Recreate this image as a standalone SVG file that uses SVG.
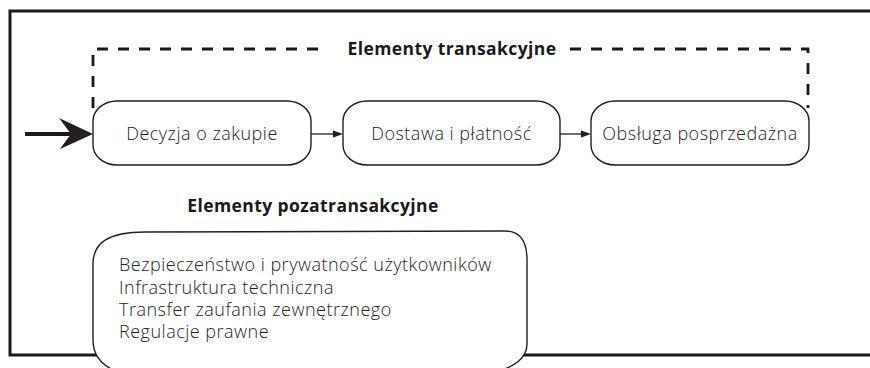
<svg xmlns="http://www.w3.org/2000/svg" width="870" height="368" viewBox="0 0 870 368">
<style>
.frame{fill:none;stroke:#1a1a1a;stroke-width:3}
.dash{fill:none;stroke:#1a1a1a;stroke-width:2.8;stroke-dasharray:11 10}
.box{fill:#fff;stroke:#231f20;stroke-width:1.4}
.lbl{font-family:"Open Sans","Noto Sans",sans-serif;font-weight:300;font-size:18px;letter-spacing:0.5px;fill:#231f20}
.hdr{font-family:"Open Sans","Noto Sans",sans-serif;font-weight:700;font-size:17.5px;letter-spacing:0.4px;fill:#1a1a1a}
.conn{stroke:#231f20;stroke-width:1.3;fill:none}
.head{fill:#231f20}
</style>
<rect width="870" height="368" fill="#fff"/>
<path class="frame" d="M872,11 H10 V355 H872"/>
<g id="transakcyjne-group">
<path class="dash" d="M93,108 V49 H324"/>
<path class="dash" d="M570,49 H808 V108"/>
<text class="hdr" x="452" y="55" text-anchor="middle">Elementy transakcyjne</text>
</g>
<g id="connectors">
<path d="M25,134 H72" stroke="#1a1a1a" stroke-width="4"/>
<path class="head" d="M93,134 L59,118 L71,134 L60,149 Z"/>
<path class="conn" d="M311,134 H336"/>
<path class="head" d="M343,134 L333,130.5 L333,137.5 Z"/>
<path class="conn" d="M560,134 H584"/>
<path class="head" d="M591,134 L581,130.5 L581,137.5 Z"/>
</g>
<g id="decyzja">
<rect class="box" x="93" y="101" width="218" height="64" rx="24" ry="20"/>
<text class="lbl" x="202" y="140" text-anchor="middle">Decyzja o zakupie</text>
</g>
<g id="dostawa">
<rect class="box" x="343" y="101" width="217" height="64" rx="24" ry="20"/>
<text class="lbl" x="451.5" y="140" text-anchor="middle">Dostawa i płatność</text>
</g>
<g id="obsluga">
<rect class="box" x="591" y="101" width="218" height="64" rx="24" ry="20"/>
<text class="lbl" x="700" y="140" text-anchor="middle">Obsługa posprzedażna</text>
</g>
<g id="pozatransakcyjne">
<text class="hdr" x="313" y="212" text-anchor="middle">Elementy pozatransakcyjne</text>
<path class="box" d="M93,264 C93,243 108,232 145,232 L505,231 C520,231 527,242 527,260 L527,344 C527,358 515,366 497,372 L118,372 C102,366 93,355 93,340 Z"/>
<text class="lbl" x="119" y="271">Bezpieczeństwo i prywatność użytkowników</text>
<text class="lbl" x="119" y="294">Infrastruktura techniczna</text>
<text class="lbl" x="119" y="316">Transfer zaufania zewnętrznego</text>
<text class="lbl" x="119" y="338">Regulacje prawne</text>
</g>
</svg>
